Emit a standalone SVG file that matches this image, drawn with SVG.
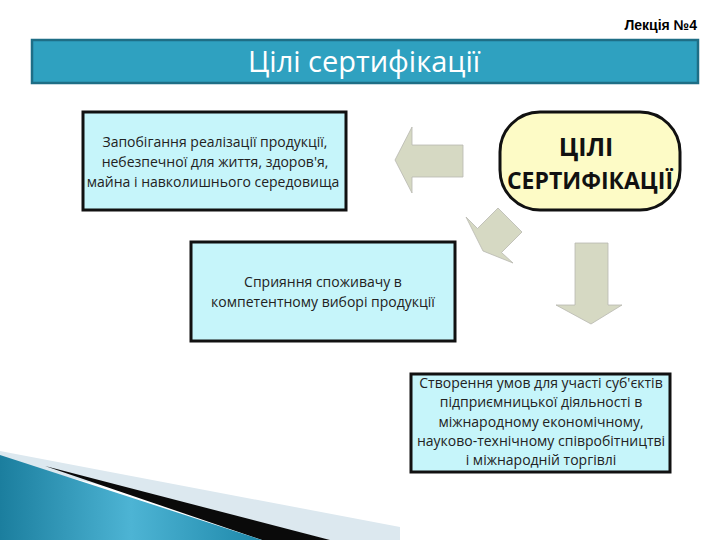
<svg xmlns="http://www.w3.org/2000/svg" width="720" height="540" viewBox="0 0 720 540">
<defs>
<linearGradient id="teal" x1="0" y1="0" x2="1" y2="0">
<stop offset="0" stop-color="#1B7E9E"/>
<stop offset="0.5" stop-color="#4DB4D4"/>
<stop offset="1" stop-color="#1E88AA"/>
</linearGradient>
<style>
.box{fill:#C6F5FA;stroke:#111;stroke-width:3}
.txt{font-family:"Open Sans","Liberation Sans",Arial,sans-serif;font-size:14px;fill:#222;text-anchor:middle}
.arrow{fill:#D6D9C3;stroke:#B8B8B0;stroke-width:0.8}
</style>
</defs>
<rect width="720" height="540" fill="#fff"/>
<g id="deco">
<polygon points="0,451 400,527 400,540 330,540 0,461" fill="#DCE8EF"/>
<polygon points="45,466 330,540 262,540" fill="#0A0A0A"/>
<polygon points="0,455 262,540 0,540" fill="url(#teal)"/>
</g>
<g id="header">
<text x="697" y="30" font-family="'Liberation Sans',Arial,sans-serif" font-size="14" font-weight="bold" text-anchor="end" fill="#000">Лекція №4</text>
<rect x="32" y="40" width="666" height="43" fill="#2FA1C0" stroke="#1E6E86" stroke-width="2.5"/>
<text x="364" y="72" font-family="'Open Sans','Liberation Sans',Arial,sans-serif" font-size="29" text-anchor="middle" fill="#fff">Цілі сертифікації</text>
</g>
<g id="goals">
<rect x="500" y="112" width="180" height="98" rx="40" ry="40" fill="#FDFBC6" stroke="#111" stroke-width="3"/>
<text x="586" y="156" font-family="'Open Sans','Liberation Sans',Arial,sans-serif" font-size="25" font-weight="bold" text-anchor="middle" fill="#111">ЦІЛІ</text>
<text x="590" y="189" font-family="'Open Sans','Liberation Sans',Arial,sans-serif" font-size="23" font-weight="bold" text-anchor="middle" fill="#111">СЕРТИФІКАЦІЇ</text>
</g>
<g id="goal1">
<rect class="box" x="83" y="112" width="263" height="98"/>
<text class="txt" x="215" y="147">Запобігання реалізації продукції,</text>
<text class="txt" x="215" y="167">небезпечної для життя, здоров'я,</text>
<text class="txt" x="213" y="187">майна і навколишнього середовища</text>
</g>
<g id="goal2">
<rect class="box" x="191" y="242" width="264" height="99"/>
<text class="txt" x="323" y="287">Сприяння споживачу в</text>
<text class="txt" x="323" y="307">компетентному виборі продукції</text>
</g>
<g id="goal3">
<rect class="box" x="411" y="374" width="259" height="98"/>
<text class="txt" x="541" y="388">Створення умов для участі суб'єктів</text>
<text class="txt" x="541" y="407">підприємницької діяльності в</text>
<text class="txt" x="541" y="427">міжнародному економічному,</text>
<text class="txt" x="541" y="446">науково-технічному співробітництві</text>
<text class="txt" x="541" y="465">і міжнародній торгівлі</text>
</g>
<g id="connectors">
<polygon class="arrow" points="463,145 463,177 412,177 412,193 395,160 412,127 412,145"/>
<polygon class="arrow" points="498,208 522,232 501.5,252.5 513,263 483,251 466,217 477.5,228.5"/>
<polygon class="arrow" points="575,243 608,243 608,305 622,305 591,324 556,305 575,305"/>
</g>
</svg>
